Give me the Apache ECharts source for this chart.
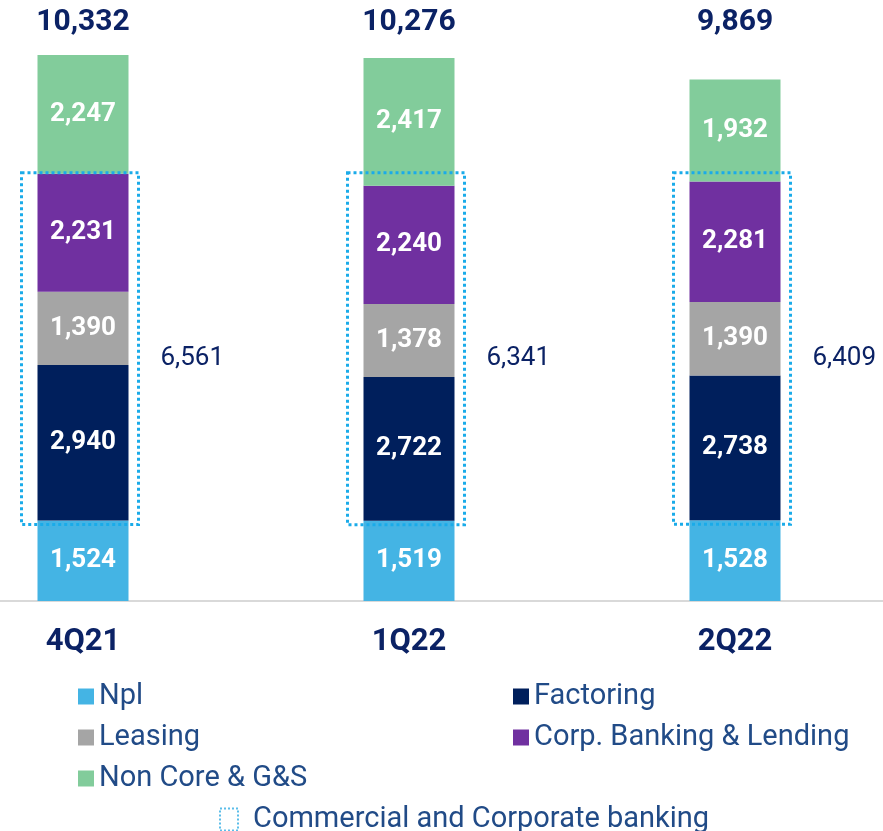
<!DOCTYPE html>
<html>
<head>
<meta charset="utf-8">
<script src="https://cdn.jsdelivr.net/npm/echarts@6/dist/echarts.min.js"></script>
<style>
  html, body { margin: 0; padding: 0; background: #fff; overflow: hidden; }
  /* chart is wider than the window so the outer category bands run off both edges */
  #chart { width: 978px; height: 831px; margin-left: -80px; }
</style>
</head>
<body>
<div id="chart"></div>
<script>
const categories = ['4Q21', '1Q22', '2Q22']
const npl = [1524, 1519, 1528]
const factoring = [2940, 2722, 2738]
const leasing = [1390, 1378, 1390]
const corpBanking = [2231, 2240, 2281]
const nonCore = [2247, 2417, 1932]
const totals = [10332, 10276, 9869]
const commercialTotals = [6561, 6341, 6409]

const navy = '#0b2265'
const legendColor = '#214b87'
const fmt = v => Number(v).toLocaleString('en-US')
const halfBar = 45.5
const shift = 80 // page offset of the chart div

const segLabel = {
  show: true,
  position: 'inside',
  color: '#fff',
  fontFamily: 'Roboto',
  fontWeight: 'bold',
  fontSize: 26,
  formatter: p => fmt(p.value)
}

function barSeries(name, data, color) {
  return {
    name: name,
    type: 'bar',
    stack: 'total',
    barWidth: 91,
    data: data,
    itemStyle: { color: color },
    label: segLabel
  }
}

// dotted box around Factoring + Leasing + Corp. Banking, one common top line
const boxTop = Math.max(...categories.map((c, i) => npl[i] + factoring[i] + leasing[i] + corpBanking[i]))
const boxData = categories.map((c, i) => [i, npl[i], boxTop, commercialTotals[i]])

const legendText = { color: legendColor, fontFamily: 'Roboto', fontSize: 29, lineHeight: 29 }

const chart = echarts.init(document.getElementById('chart'))
chart.setOption({
  animation: false,
  textStyle: { fontFamily: 'Roboto' },
  grid: { left: 0, right: 0, top: 55, bottom: 230 },
  xAxis: [{
    type: 'category',
    data: categories,
    axisLine: { lineStyle: { color: '#d9d9d9', width: 2 } },
    axisTick: { length: 10, lineStyle: { color: '#d9d9d9', width: 2 } },
    axisLabel: { color: navy, fontSize: 31, fontWeight: 'bold', margin: 26 }
  }, {
    type: 'category',
    position: 'top',
    data: totals.map(fmt),
    axisLine: { show: false },
    axisTick: { show: false },
    axisLabel: { color: navy, fontSize: 30, fontWeight: 'bold', margin: 18 }
  }],
  yAxis: {
    type: 'value',
    min: 0,
    max: Math.max(...totals),
    show: false,
    splitLine: { show: false }
  },
  legend: [{
    left: 73 + shift,
    top: 677,
    orient: 'vertical',
    itemWidth: 16,
    itemHeight: 16,
    itemGap: 12,
    icon: 'rect',
    textStyle: legendText,
    data: ['Npl', 'Leasing', 'Non Core & G&S']
  }, {
    left: 508 + shift,
    top: 677,
    orient: 'vertical',
    itemWidth: 16,
    itemHeight: 16,
    itemGap: 12,
    icon: 'rect',
    textStyle: legendText,
    data: ['Factoring', 'Corp. Banking & Lending']
  }, {
    left: 214 + shift,
    top: 800,
    itemWidth: 18,
    itemHeight: 22,
    textStyle: Object.assign({}, legendText, { padding: [0, 0, 0, 10] }),
    data: [{
      name: 'Commercial and Corporate banking',
      icon: 'rect',
      itemStyle: { color: 'rgba(0,0,0,0)', borderColor: '#5bbde9', borderWidth: 2, borderType: [2, 2] }
    }]
  }],
  series: [
    barSeries('Npl', npl, '#44b4e4'),
    barSeries('Factoring', factoring, '#001f5c'),
    barSeries('Leasing', leasing, '#a5a5a5'),
    barSeries('Corp. Banking & Lending', corpBanking, '#7030a0'),
    barSeries('Non Core & G&S', nonCore, '#82cc9b'),
    {
      name: 'Commercial and Corporate banking',
      type: 'custom',
      z: 5,
      clip: false,
      itemStyle: { color: 'rgba(0,0,0,0)', borderColor: '#1aabe9' },
      encode: { x: 0, y: [1, 2] },
      data: boxData,
      renderItem: function (params, api) {
        const pTop = api.coord([api.value(0), api.value(2)])
        const pBot = api.coord([api.value(0), api.value(1)])
        const x0 = pTop[0] - halfBar - 16
        const x1 = pTop[0] + halfBar + 10
        const y0 = pTop[1] - 1
        const y1 = pBot[1] + 4
        return {
          type: 'group',
          children: [{
            type: 'rect',
            shape: { x: x0, y: y0, width: x1 - x0, height: y1 - y0 },
            style: { fill: 'none', stroke: '#1aabe9', lineWidth: 3, lineDash: [3, 3] }
          }, {
            type: 'text',
            style: {
              text: fmt(api.value(3)),
              x: pTop[0] + halfBar + 32,
              y: (y0 + y1) / 2 + 10,
              fill: navy,
              fontFamily: 'Roboto',
              fontSize: 26,
              verticalAlign: 'middle'
            }
          }]
        }
      }
    }
  ]
})
</script>
</body>
</html>
